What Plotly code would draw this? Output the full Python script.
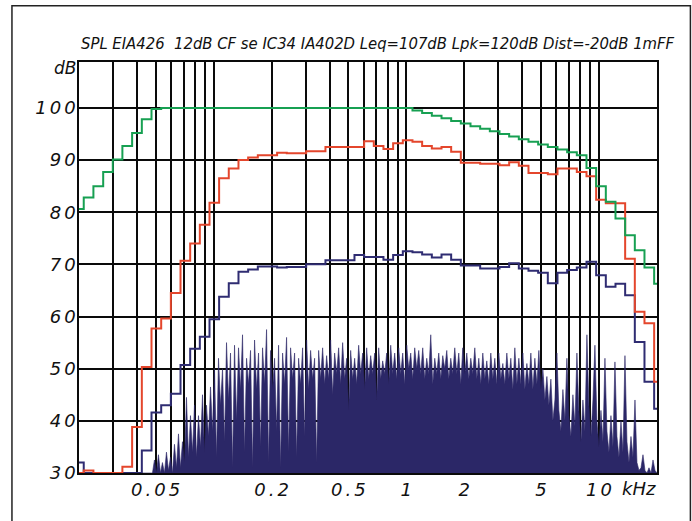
import numpy as np
import plotly.graph_objects as go

# 1/6-octave band centres (Hz)
BAND_HZ = [20, 22.4, 25.2, 28.3, 31.7, 35.6, 40, 44.9, 50.4, 56.6, 63.5, 71.3, 80, 89.8,
           100.8, 113, 127, 142.5, 160, 179.6, 201.6, 226, 254, 285, 320, 359, 403, 452,
           508, 570, 640, 718, 806, 905, 1016, 1140, 1280, 1437, 1613, 1810, 2032, 2281,
           2560, 2874, 3225, 3620, 4064, 4561, 5120, 5747, 6451, 7241, 8128, 9123, 10240,
           11494, 12902, 14482, 16255, 18245, 20480]

GREEN_DB = [80.6, 82.8, 85.0, 87.7, 90.1, 92.7, 95.2, 97.8, 99.8,
            100, 100, 100, 100, 100, 100, 100, 100, 100, 100, 100, 100, 100, 100, 100, 100,
            100, 100, 100, 100, 100, 100, 100, 100, 100, 100,
            99.5, 99.0, 98.5, 98.0, 97.5, 97.0, 96.5, 96.0, 95.5, 95.0, 94.5, 94.0, 93.5,
            93.0, 92.5, 92.0, 91.5, 90.9, 88.5, 85.0, 82.0, 78.8, 75.6, 72.7, 69.4, 66.3]

RED_DB = [30.0, 30.5, 30.0, 30.0, 30.0, 31.2, 38.8, 50.3, 57.7, 59.6, 64.5, 70.7, 74.0,
          77.6, 81.8, 86.5, 88.4, 90.0, 90.5, 90.9, 90.9, 91.4, 91.3, 91.3, 91.7, 91.7,
          92.5, 92.5, 92.5, 92.5, 93.6, 92.7, 92.1, 93.2, 93.8, 93.5, 92.7, 92.2, 92.5,
          91.6, 89.5, 89.5, 89.3, 89.3, 89.0, 89.6, 88.9, 87.5, 87.5, 87.3, 88.4, 88.4,
          87.7, 86.9, 82.4, 81.7, 81.7, 71.1, 60.9, 58.7, 47.5]

BLUE_DB = [32.0, 30, 30, 30, 30, 30, 30, 34.3, 41.6, 43.0, 45.2, 50.7, 53.8, 56.1, 59.5,
           63.8, 66.4, 68.6, 69.0, 69.6, 69.6, 69.4, 69.5, 69.5, 70.0, 70.0, 70.8, 70.8,
           70.8, 71.8, 71.4, 71.4, 70.9, 71.8, 72.5, 72.3, 71.9, 71.3, 71.9, 70.9, 69.8,
           69.8, 69.2, 69.2, 69.5, 70.2, 69.2, 68.8, 68.4, 66.4, 68.4, 68.9, 69.4, 70.5,
           67.9, 65.7, 66.3, 64.1, 55.1, 47.5, 42.3]

# narrow-band noise spectrum, sampled from 0.0361 kHz to 20 kHz
NOISE_F_START_KHZ = 0.0361
NOISE_F_STOP_KHZ = 20.0
NOISE_DB = [30, 30, 30, 30, 30, 30, 30, 30, 30, 30, 30, 30, 30,
            32.5, 30, 33.5, 30, 32, 30, 34, 30.5, 33, 30, 35.5, 31, 37.5, 31, 36, 32,
            44.5, 33, 41, 34, 43, 33, 41, 35, 45, 34, 43, 37, 46.5, 38, 50, 33, 52, 43,
            50, 36, 55, 44, 53, 31, 54.5, 40, 54, 46, 56.5, 34, 52, 47, 53.5, 31, 55.5,
            46, 53, 35, 54, 47, 57.5, 32, 53.5, 46, 52, 38, 54.5, 31, 53, 47, 56, 34, 54,
            48, 53, 33, 52, 47, 54, 37, 55.5, 46, 53.5, 48, 52, 32, 53.5, 48, 54, 47,
            52.5, 48, 55.5, 45, 53, 49, 54, 47, 55, 48, 52, 42, 53.5, 48, 52, 47, 54.5,
            49, 53, 46, 54, 48, 52.5, 49, 53, 44, 54, 48, 51.5, 49, 53, 47, 54.5, 49, 53,
            48, 54, 49, 53, 47, 54.5, 50, 53, 48, 54, 50, 53.5, 49, 54, 48, 52, 49, 56.5,
            47, 52, 49, 53, 48, 52.5, 50, 53.5, 48, 52, 49, 54, 49, 53, 47, 54, 49, 53,
            48, 52, 49, 54, 48, 52, 47, 53, 48, 51.5, 47, 53, 48, 52, 47, 53, 48, 51, 47,
            53, 48, 52, 46, 54, 47, 52, 47, 53, 46, 51, 47, 53, 46, 52, 47, 53.5, 46, 50,
            44, 48.5, 43, 48, 40,
            44, 53, 42, 38, 46, 40, 52, 41, 37, 45, 39, 53, 42, 36, 44, 38, 56.5, 43, 37,
            44, 54.5, 40, 35, 42, 36, 52, 38, 34, 41, 35, 51.3, 37, 33, 40, 34, 52.5, 36,
            32, 37, 33, 44, 32, 30.5, 31, 33.5, 30.5, 30, 31, 30, 32.5, 30.5, 30]

X_GRID_KHZ = [0.02, 0.03, 0.04, 0.05, 0.06, 0.07, 0.08, 0.09,
              0.1, 0.2, 0.3, 0.4, 0.5, 0.6, 0.7, 0.8, 0.9,
              1, 2, 3, 4, 5, 6, 7, 8, 9, 10, 20]
X_LABELS = {0.05: "0.05", 0.2: "0.2", 0.5: "0.5", 1: "1", 2: "2", 5: "5", 10: "10"}
Y_TICKS = [30, 40, 50, 60, 70, 80, 90, 100]
TITLE = "SPL EIA426  12dB CF se IC34 IA402D Leq=107dB Lpk=120dB Dist=-20dB 1mFF"

SP = "\u2006"


def spaced(s):
    return SP.join(list(s))


# band edges (kHz) for the stepped curves
c = np.array(BAND_HZ, dtype=float) / 1000.0
mids = np.sqrt(c[:-1] * c[1:])
edges = np.concatenate([[c[0] ** 2 / mids[0]], mids, [c[-1] ** 2 / mids[-1]]])


def step(vals):
    v = list(vals)
    return list(edges), v + [v[-1]]


noise_f = np.geomspace(NOISE_F_START_KHZ, NOISE_F_STOP_KHZ, len(NOISE_DB))

NAVY = "#2b2767"
fig = go.Figure()
fig.add_trace(go.Scatter(x=noise_f, y=NOISE_DB, mode="lines", fill="tozeroy",
                         fillcolor=NAVY, line=dict(color=NAVY, width=0.6),
                         hoverinfo="skip"))
for vals, col in [(BLUE_DB, "#2f2c72"), (RED_DB, "#e4462c"), (GREEN_DB, "#17a052")]:
    xs, ys = step(vals)
    fig.add_trace(go.Scatter(x=xs, y=ys, mode="lines", line_shape="hv",
                             line=dict(color=col, width=2)))

tickfont = dict(family="DejaVu Sans", size=18, color="#111", style="italic")
fig.update_xaxes(type="log", range=[np.log10(0.02), np.log10(20)],
                 tickmode="array", tickvals=X_GRID_KHZ,
                 ticktext=[spaced(X_LABELS.get(v, "")) for v in X_GRID_KHZ],
                 showgrid=True, gridcolor="#0a0a0a", gridwidth=1.5,
                 showline=True, linecolor="#0a0a0a", linewidth=1.5, mirror=True,
                 ticks="", zeroline=False, tickfont=tickfont, tickangle=0)
fig.update_yaxes(range=[30, 108.8], tickmode="array", tickvals=Y_TICKS,
                 ticktext=[spaced(str(v)) for v in Y_TICKS],
                 showgrid=True, gridcolor="#0a0a0a", gridwidth=1.5,
                 showline=True, linecolor="#0a0a0a", linewidth=1.5, mirror=True,
                 ticks="", zeroline=False, tickfont=tickfont, ticklabelstandoff=-2)

fig.add_annotation(text=TITLE, xref="paper", yref="paper", x=0.5177, y=1.046,
                   xanchor="center", yanchor="middle", showarrow=False,
                   font=dict(family="DejaVu Sans Condensed, Liberation Sans Narrow, sans-serif",
                             size=16.5, color="#111", style="italic"))
fig.add_annotation(text="dB", xref="paper", yref="paper", x=-0.002, y=0.985,
                   xanchor="right", yanchor="middle", showarrow=False,
                   font=dict(family="DejaVu Sans", size=17, color="#111", style="italic"))
fig.add_annotation(text="kHz", xref="paper", yref="paper", x=0.9367, y=-0.0373,
                   xanchor="left", yanchor="middle", showarrow=False,
                   font=dict(family="DejaVu Sans", size=18, color="#111", style="italic"))
fig.add_shape(type="rect", xref="paper", yref="paper", x0=-0.116, x1=1.0578,
              y0=-0.2, y1=1.137, line=dict(color="#222", width=1.5))

fig.update_layout(width=692, height=521, autosize=False,
                  margin=dict(l=79, r=35, t=62, b=48),
                  plot_bgcolor="white", paper_bgcolor="white", showlegend=False)
fig.write_html("out.html", config={"displayModeBar": False},
               post_script="document.body.style.margin='0';"
                           "document.body.style.overflow='hidden';")
